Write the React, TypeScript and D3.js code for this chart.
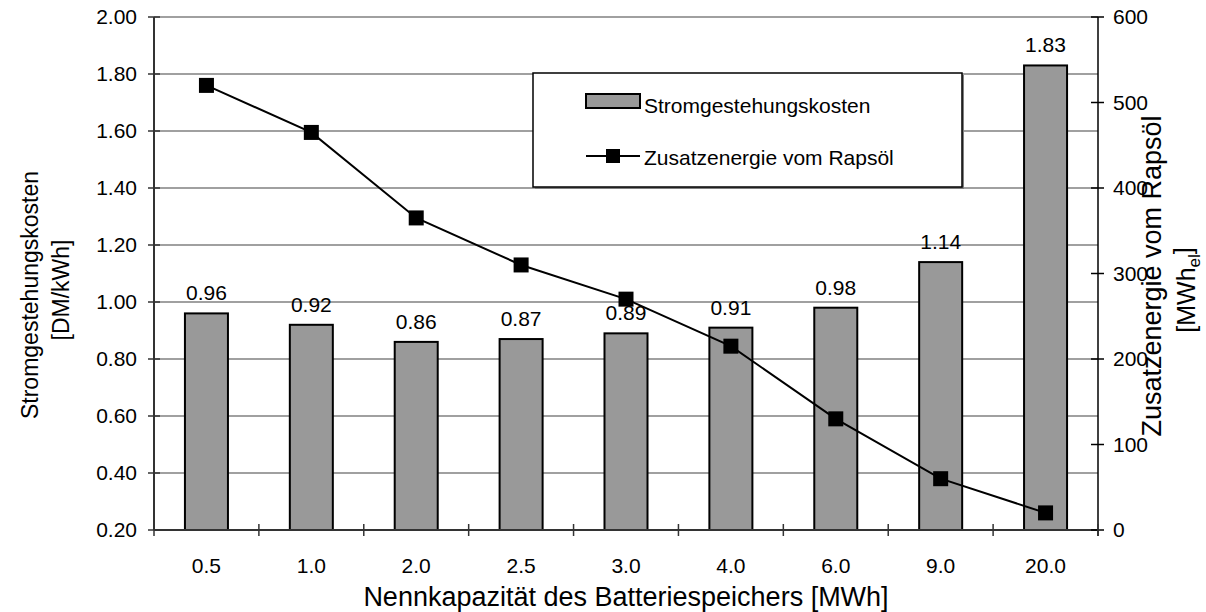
import React from "react";
import * as d3 from "d3";

const categories = ["0.5", "1.0", "2.0", "2.5", "3.0", "4.0", "6.0", "9.0", "20.0"];
const costValues = [0.96, 0.92, 0.86, 0.87, 0.89, 0.91, 0.98, 1.14, 1.83];
const rapsValues = [520, 465, 365, 310, 270, 215, 130, 60, 20];
const leftTicks = [0.2, 0.4, 0.6, 0.8, 1.0, 1.2, 1.4, 1.6, 1.8, 2.0];
const rightTicks = [0, 100, 200, 300, 400, 500, 600];

const FONT = "'Liberation Sans', Arial, sans-serif";

export default function App() {
  const W = 1206, H = 612;
  const x0 = 154, x1 = 1098, yTop = 17, yBot = 530;
  const x = d3.scaleBand<string>().domain(categories).range([x0, x1]).padding(0);
  const yL = d3.scaleLinear().domain([0.2, 2.0]).range([yBot, yTop]);
  const yR = d3.scaleLinear().domain([0, 600]).range([yBot, yTop]);
  const step = x.step();
  const bw = step * 0.41;
  const cx = (c: string) => (x(c) as number) + step / 2;
  const line = d3
    .line<number>()
    .x((_, i) => cx(categories[i]))
    .y((d) => yR(d));
  const ms = 15;
  const boundaries = d3.range(categories.length + 1).map((i) => x0 + i * step);
  const fs = 21;

  return (
    <svg width={W} height={H} style={{ position: "absolute", left: 0, top: 0, background: "#fff" }} fontFamily={FONT}>
      {/* gridlines */}
      {leftTicks.slice(1).map((t) => (
        <line key={"g" + t} x1={x0} x2={x1} y1={yL(t)} y2={yL(t)} stroke="#808080" strokeWidth={1.5} />
      ))}
      {/* bars */}
      {costValues.map((v, i) => (
        <rect
          key={"b" + i}
          x={cx(categories[i]) - bw / 2}
          y={yL(v)}
          width={bw}
          height={yBot - yL(v)}
          fill="#999999"
          stroke="#000"
          strokeWidth={2}
        />
      ))}
      {/* bar labels */}
      {costValues.map((v, i) => (
        <text key={"bl" + i} x={cx(categories[i])} y={yL(v) - 13} textAnchor="middle" fontSize={fs} fill="#000">
          {v.toFixed(2)}
        </text>
      ))}
      {/* axes */}
      <line x1={x0} x2={x0} y1={yTop} y2={yBot} stroke="#333" strokeWidth={2} />
      <line x1={x1} x2={x1} y1={yTop} y2={yBot + 6} stroke="#000" strokeWidth={1.5} />
      <line x1={x0} x2={x1} y1={yBot} y2={yBot} stroke="#333" strokeWidth={2} />
      {leftTicks.map((t) => (
        <g key={"lt" + t}>
          <line x1={x0 - 6} x2={x0 + 6} y1={yL(t)} y2={yL(t)} stroke="#333" strokeWidth={1.5} />
          <text x={x0 - 17} y={yL(t)} dy="0.35em" textAnchor="end" fontSize={fs} fill="#000">
            {t.toFixed(2)}
          </text>
        </g>
      ))}
      {rightTicks.map((t) => (
        <g key={"rt" + t}>
          <line x1={x1 - 7} x2={x1 + 6} y1={yR(t)} y2={yR(t)} stroke="#000" strokeWidth={1.5} />
          <text x={x1 + 15} y={yR(t)} dy="0.35em" textAnchor="start" fontSize={fs} fill="#000">
            {t}
          </text>
        </g>
      ))}
      {boundaries.map((b, i) => (
        <line key={"xt" + i} x1={b} x2={b} y1={yBot - 6} y2={yBot + 6} stroke="#333" strokeWidth={1.5} />
      ))}
      {categories.map((c) => (
        <text key={"xl" + c} x={cx(c)} y={573} textAnchor="middle" fontSize={fs} fill="#000">
          {c}
        </text>
      ))}
      {/* line series */}
      <path d={line(rapsValues) || ""} fill="none" stroke="#000" strokeWidth={2} />
      {rapsValues.map((v, i) => (
        <rect key={"m" + i} x={cx(categories[i]) - ms / 2} y={yR(v) - ms / 2} width={ms} height={ms} fill="#000" />
      ))}
      {/* legend */}
      <rect x={535} y={75} width={429} height={114} fill="#808080" />
      <rect x={533} y={73} width={429} height={114} fill="#fff" stroke="#000" strokeWidth={1.5} />
      <rect x={586} y={94} width={54} height={14} fill="#999999" stroke="#000" strokeWidth={2} />
      <text x={644} y={113} fontSize={fs} fill="#000">Stromgestehungskosten</text>
      <line x1={586} x2={640} y1={156} y2={156} stroke="#000" strokeWidth={2} />
      <rect x={613 - 7} y={156 - 7} width={14} height={14} fill="#000" />
      <text x={644} y={165} fontSize={fs} fill="#000">Zusatzenergie vom Rapsöl</text>
      {/* axis titles */}
      <text x={626} y={606} textAnchor="middle" fontSize={27} fill="#000">
        Nennkapazität des Batteriespeichers [MWh]
      </text>
      <g transform="translate(30,295) rotate(-90)">
        <text x={0} y={0} textAnchor="middle" dy="0.35em" fontSize={23} fill="#000">Stromgestehungskosten</text>
      </g>
      <g transform="translate(61,290) rotate(-90)">
        <text x={0} y={0} textAnchor="middle" dy="0.35em" fontSize={23} fill="#000">[DM/kWh]</text>
      </g>
      <g transform="translate(1152,276) rotate(-90)">
        <text x={0} y={0} textAnchor="middle" dy="0.35em" fontSize={27} fill="#000">Zusatzenergie vom Rapsöl</text>
      </g>
      <g transform="translate(1186,290) rotate(-90)">
        <text x={0} y={0} textAnchor="middle" dy="0.35em" fontSize={25} fill="#000">
          [MWh<tspan fontSize={17} dy="0.3em">el</tspan><tspan dy="-0.3em">]</tspan>
        </text>
      </g>
    </svg>
  );
}
